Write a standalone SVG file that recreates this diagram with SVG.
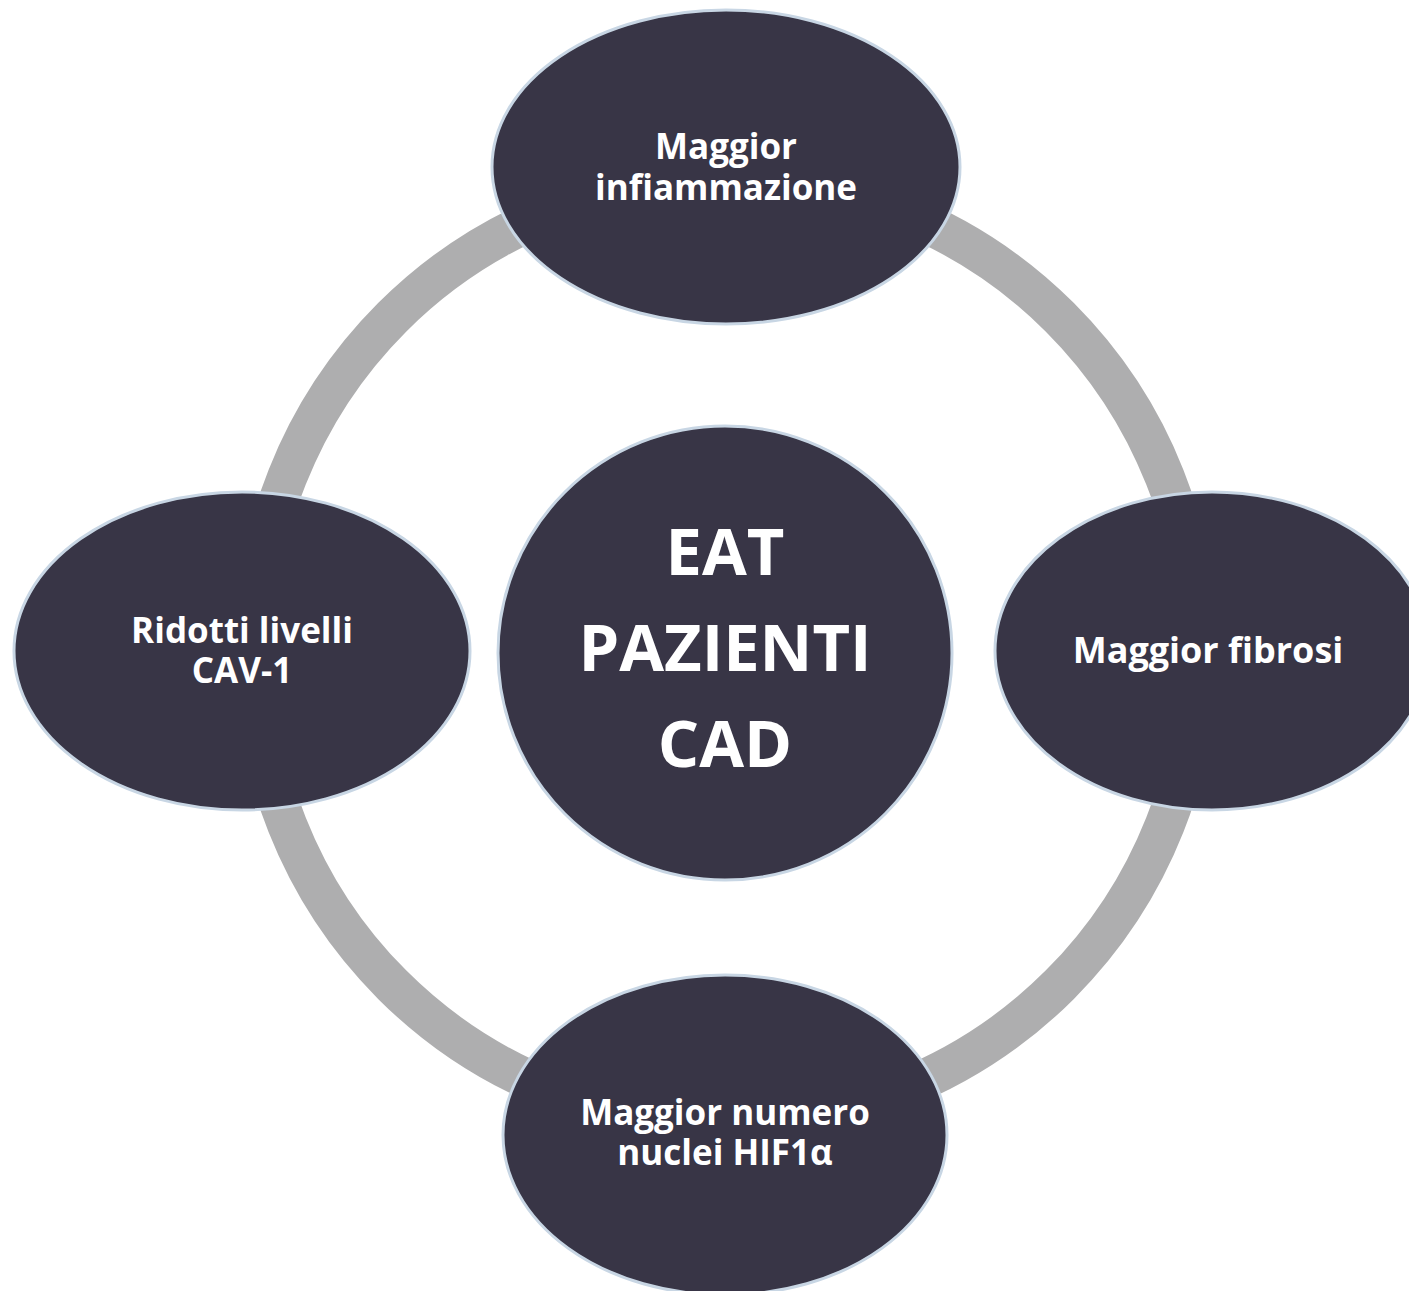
<svg xmlns="http://www.w3.org/2000/svg" width="1409" height="1291" viewBox="0 0 1409 1291">
<style>
.node{fill:#383546;stroke:#C8D6E4;stroke-width:3}
.lbl{font-family:"Open Sans","Noto Sans",sans-serif;font-weight:700;fill:#FFFFFF;text-anchor:middle}
.s{font-size:35px}
.b{font-size:65px}
.ring{fill:none;stroke:#AEAEAF;stroke-width:40}
</style>
<rect width="1409" height="1291" fill="#FFFFFF"/>
<g id="connectors">
<circle class="ring" cx="726" cy="651" r="472"/>
</g>
<g id="node-top">
<ellipse class="node" cx="726" cy="167" rx="234" ry="157"/>
<text class="lbl s" x="726" y="159">Maggior<tspan x="726" dy="41">infiammazione</tspan></text>
</g>
<g id="node-left">
<ellipse class="node" cx="242" cy="651" rx="228" ry="159"/>
<text class="lbl s" x="242" y="643">Ridotti livelli<tspan x="242" dy="40">CAV-1</tspan></text>
</g>
<g id="node-right">
<ellipse class="node" cx="1212" cy="651" rx="217" ry="159"/>
<text class="lbl s" x="1208" y="663" style="font-size:36px">Maggior fibrosi</text>
</g>
<g id="node-bottom">
<ellipse class="node" cx="725" cy="1135" rx="222" ry="160"/>
<text class="lbl s" x="725" y="1125">Maggior numero<tspan x="725" dy="40">nuclei HIF1α</tspan></text>
</g>
<g id="node-center">
<circle class="node" cx="725" cy="653" r="227"/>
<text class="lbl b" x="725" y="575">EAT<tspan x="725" dy="96">PAZIENTI</tspan><tspan x="725" dy="96">CAD</tspan></text>
</g>
</svg>
